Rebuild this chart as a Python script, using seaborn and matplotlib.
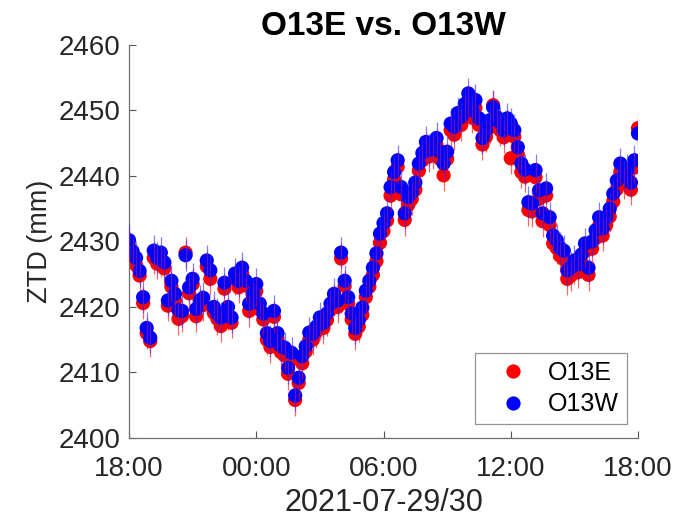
import numpy as np
import pandas as pd
import matplotlib
matplotlib.use("Agg")
import matplotlib.pyplot as plt
import matplotlib.dates as mdates
import seaborn as sns

# ---------------- data (10-minute epochs, 2021-07-29 18:00 -> 2021-07-30 18:00) ----------------
start_time = "2021-07-29 18:00"
n_epochs = 145

ztd_o13w = [
    2430.2, 2428.5, 2427.5, 2425.5, 2421.5, 2416.8, 2415.3, 2428.6, 2427.5, 2428.3,
    2426.8, 2421.0, 2424.0, 2422.0, 2419.5, 2419.4, 2427.9, 2423.0, 2424.3, 2419.7,
    2421.0, 2421.4, 2427.1, 2425.6, 2420.0, 2419.0, 2418.4, 2423.7, 2420.0, 2418.4,
    2425.1, 2424.0, 2426.0, 2424.0, 2420.5, 2422.0, 2423.5, 2420.5, 2419.0, 2416.0,
    2414.8, 2419.4, 2416.0, 2414.0, 2413.8, 2410.7, 2413.0, 2406.5, 2409.2, 2412.5,
    2414.0, 2416.1, 2415.9, 2417.0, 2418.4, 2417.6, 2419.0, 2420.5, 2422.0, 2421.0,
    2428.3, 2424.0, 2421.5, 2419.0, 2416.8, 2418.0, 2419.9, 2422.5, 2424.0, 2426.0,
    2428.2, 2431.2, 2432.8, 2434.3, 2438.3, 2440.6, 2442.4, 2438.3, 2434.3, 2436.8,
    2437.5, 2439.0, 2441.9, 2443.5, 2445.2, 2444.0, 2444.5, 2445.8, 2443.7, 2441.9,
    2443.7, 2448.0, 2447.5, 2449.6, 2449.0, 2451.0, 2452.6, 2450.0, 2451.6, 2448.8,
    2445.8, 2447.0, 2448.5, 2450.5, 2449.0, 2448.2, 2447.0, 2448.8, 2448.0, 2447.0,
    2444.4, 2441.9, 2441.0, 2436.0, 2435.8, 2440.9, 2437.8, 2434.3, 2438.1, 2433.7,
    2430.9, 2430.2, 2429.0, 2428.6, 2425.6, 2426.0, 2427.1, 2426.5, 2428.0, 2429.7,
    2426.0, 2430.0, 2431.7, 2433.7, 2432.0, 2433.7, 2435.0, 2437.3, 2439.3, 2441.9,
    2440.0, 2440.9, 2439.0, 2442.4, 2446.5,
]

ztd_o13e = [
    2429.3, 2427.6, 2426.4, 2424.8, 2420.6, 2416.0, 2414.8, 2427.5, 2426.6, 2427.0,
    2425.9, 2420.2, 2423.1, 2421.0, 2418.2, 2418.6, 2428.3, 2422.1, 2423.5, 2418.6,
    2420.4, 2420.3, 2426.2, 2424.3, 2419.1, 2418.2, 2417.1, 2422.8, 2418.9, 2417.6,
    2424.2, 2423.0, 2425.1, 2423.3, 2419.4, 2421.2, 2422.4, 2419.6, 2418.1, 2415.0,
    2413.9, 2418.5, 2415.2, 2413.1, 2412.6, 2409.8, 2412.0, 2405.8, 2408.4, 2411.4,
    2413.2, 2415.0, 2415.0, 2416.2, 2417.3, 2416.8, 2418.0, 2419.6, 2421.1, 2420.0,
    2427.4, 2423.2, 2420.5, 2418.1, 2415.9, 2417.0, 2418.8, 2421.5, 2423.1, 2424.9,
    2427.0, 2429.8, 2431.6, 2433.2, 2437.0, 2439.5, 2441.4, 2437.2, 2433.3, 2435.6,
    2436.5, 2437.9, 2440.8, 2442.4, 2444.1, 2443.0, 2443.5, 2444.7, 2442.6, 2440.1,
    2442.6, 2447.0, 2446.3, 2448.5, 2447.8, 2450.0, 2451.5, 2448.9, 2450.4, 2447.8,
    2444.8, 2446.0, 2447.4, 2450.8, 2447.9, 2447.0, 2445.9, 2447.8, 2442.7, 2446.0,
    2443.3, 2440.6, 2439.9, 2434.8, 2434.6, 2439.8, 2436.5, 2433.1, 2437.0, 2432.5,
    2429.7, 2429.0, 2427.8, 2427.3, 2424.3, 2424.8, 2425.9, 2425.3, 2426.8, 2428.5,
    2424.9, 2428.9, 2430.5, 2432.4, 2430.9, 2432.5, 2433.8, 2436.1, 2438.0, 2440.6,
    2438.9, 2439.7, 2437.9, 2441.3, 2447.3,
]

sigma_o13e = 2.4
sigma_o13w = 2.4

stations = ["O13E", "O13W"]
station_colors = {"O13E": "#ff0000", "O13W": "#0000ff"}

y_ticks = [2400, 2410, 2420, 2430, 2440, 2450, 2460]
x_tick_times = ["2021-07-29 18:00", "2021-07-30 00:00", "2021-07-30 06:00",
                "2021-07-30 12:00", "2021-07-30 18:00"]
title = "O13E vs. O13W"
x_label = "2021-07-29/30"
y_label = "ZTD (mm)"

# ---------------- build table ----------------
times = pd.date_range(start_time, periods=n_epochs, freq="10min")
df = pd.DataFrame({
    "time": list(times) * 2,
    "ztd": ztd_o13e + ztd_o13w,
    "station": ["O13E"] * n_epochs + ["O13W"] * n_epochs,
})

# ---------------- plot ----------------
sns.set_theme(style="white")
plt.rcParams["font.family"] = ["Liberation Sans", "DejaVu Sans"]

fig = plt.figure(figsize=(6.74, 5.2), dpi=100)
ax = fig.add_axes([0.1914, 0.1577, 0.7552, 0.7558])

sns.scatterplot(data=df, x="time", y="ztd", hue="station", hue_order=stations,
                palette=station_colors, s=105, linewidth=0, edgecolor="none",
                ax=ax, zorder=2)

ax.errorbar(times, ztd_o13e, yerr=sigma_o13e, fmt="none", ecolor="#ff0000",
            elinewidth=0.9, alpha=0.6, zorder=3)
ax.errorbar(times, ztd_o13w, yerr=sigma_o13w, fmt="none", ecolor="#2a2aff",
            elinewidth=0.9, alpha=0.6, zorder=3)

ax.set_xlim(pd.Timestamp(x_tick_times[0]), pd.Timestamp(x_tick_times[-1]))
ax.set_ylim(y_ticks[0], y_ticks[-1])
ax.set_yticks(y_ticks)
ax.set_xticks([pd.Timestamp(t) for t in x_tick_times])
ax.xaxis.set_major_formatter(mdates.DateFormatter("%H:%M"))

tick_col = "#262626"
ax.tick_params(axis="both", direction="in", length=5, width=0.8, colors="#555555",
               labelcolor=tick_col, labelsize=20,
               left=True, bottom=True, top=False, right=False)
ax.tick_params(axis="x", pad=13)
ax.tick_params(axis="y", pad=6)
for side in ["top", "right"]:
    ax.spines[side].set_visible(False)
for side in ["left", "bottom"]:
    ax.spines[side].set_color("#6e6e6e")
    ax.spines[side].set_linewidth(0.9)

ax.set_title(title, fontsize=24, fontweight="bold", color="black", pad=7)
ax.set_xlabel(x_label, fontsize=22, color=tick_col, labelpad=4)
ax.set_ylabel(y_label, fontsize=19.5, color=tick_col, labelpad=4)

handles, labels = ax.get_legend_handles_labels()
leg = ax.legend(handles, labels, loc="lower right", bbox_to_anchor=(0.978, 0.036),
                borderaxespad=0, frameon=True, fancybox=False, fontsize=18,
                markerscale=1.0, handletextpad=0.18, borderpad=0.3,
                labelspacing=0.3, handlelength=2.44)
leg.get_frame().set_edgecolor("#7a7a7a")
leg.get_frame().set_linewidth(0.9)
for t in leg.get_texts():
    t.set_color("black")

fig.savefig("out.png", dpi=100, facecolor="white")
